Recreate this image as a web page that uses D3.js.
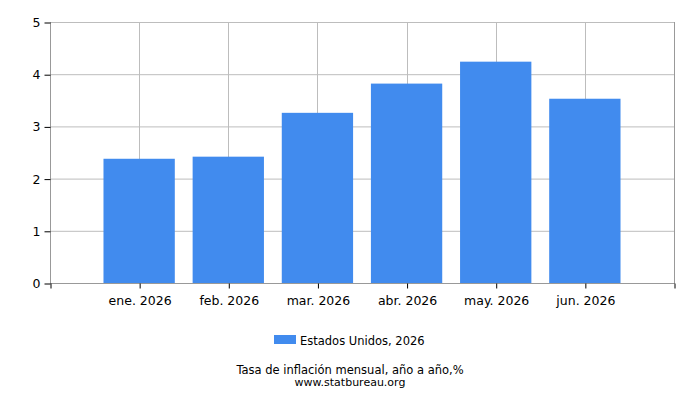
<!DOCTYPE html>
<html><head><meta charset="utf-8">
<script src="https://cdn.jsdelivr.net/npm/d3@7"></script>
<style>body{margin:0;background:#fff}svg{display:block}text{font-family:"DejaVu Sans",Verdana,sans-serif;fill:#000}</style>
</head><body><svg id="c" width="700" height="400"></svg>
<script>
const categories = ["ene. 2026","feb. 2026","mar. 2026","abr. 2026","may. 2026","jun. 2026"];
const values = [2.38, 2.42, 3.26, 3.82, 4.24, 3.53];
const yTicks = [0,1,2,3,4,5];
const seriesName = "Estados Unidos, 2026";
const title = "Tasa de inflación mensual, año a año,%";
const source = "www.statbureau.org";

const svg = d3.select("#c");
const L = 50, R = 674, T = 22, B = 283;
const x = d3.scaleLinear().domain([0, categories.length + 1]).range([L, R]);
const y = d3.scaleLinear().domain([0, 5]).range([B, T]);
const color = "#418bee";

// horizontal grid
svg.append("g").selectAll("line").data(yTicks).join("line")
  .attr("x1", L).attr("x2", R).attr("y1", d => y(d) + 0.5).attr("y2", d => y(d) + 0.5)
  .attr("stroke", "#bdbdbd").attr("stroke-width", 1);
// vertical grid
svg.append("g").selectAll("line").data(categories).join("line")
  .attr("x1", (d, i) => Math.round(x(i + 1)) + 0.5).attr("x2", (d, i) => Math.round(x(i + 1)) + 0.5)
  .attr("y1", T).attr("y2", B).attr("stroke", "#bdbdbd").attr("stroke-width", 1);

// bars
svg.append("g").selectAll("rect").data(values).join("rect")
  .attr("x", (d, i) => x(i + 1 - 0.4)).attr("width", x(0.8) - x(0))
  .attr("y", d => y(d)).attr("height", d => y(0) - y(d)).attr("fill", color);

// frame
svg.append("line").attr("x1", R + 0.5).attr("x2", R + 0.5).attr("y1", T).attr("y2", B).attr("stroke", "#999");
svg.append("line").attr("x1", L + 0.5).attr("x2", L + 0.5).attr("y1", T).attr("y2", B + 0.5).attr("stroke", "#999");
svg.append("line").attr("x1", L).attr("x2", R + 1).attr("y1", B + 0.5).attr("y2", B + 0.5).attr("stroke", "#999");

// y axis
const yAxis = d3.axisLeft(y).tickValues(yTicks).tickSize(6).tickPadding(4).tickFormat(d3.format("d"));
const gy = svg.append("g").attr("transform", `translate(${L + 0.5},0.5)`).call(yAxis);
gy.select(".domain").remove();
gy.selectAll(".tick line").attr("stroke", "#000");
gy.selectAll("text").attr("font-size", "12.5px").attr("font-family", "DejaVu Sans").attr("fill", "#000");

// x axis
const xTickVals = d3.range(0, categories.length + 2);
const xAxis = d3.axisBottom(x).tickValues(xTickVals).tickSize(6).tickPadding(7)
  .tickFormat(d => (d >= 1 && d <= categories.length) ? categories[d - 1] : "");
const gx = svg.append("g").attr("transform", `translate(0.5,${B + 0.5})`).call(xAxis);
gx.select(".domain").remove();
gx.selectAll(".tick line").attr("stroke", "#000").attr("y1", 0).attr("y2", 5);
gx.selectAll("text").attr("font-size", "12.5px").attr("font-family", "DejaVu Sans").attr("fill", "#000");

// legend
svg.append("rect").attr("x", 274).attr("y", 335).attr("width", 22).attr("height", 9).attr("fill", color);
svg.append("text").attr("x", 300).attr("y", 345).attr("font-size", "11.5px").text(seriesName);

// title and source
svg.append("text").attr("x", 350).attr("y", 374).attr("text-anchor", "middle").attr("font-size", "11.5px").text(title);
svg.append("text").attr("x", 350).attr("y", 386).attr("text-anchor", "middle").attr("font-size", "11px").text(source);
</script></body></html>
